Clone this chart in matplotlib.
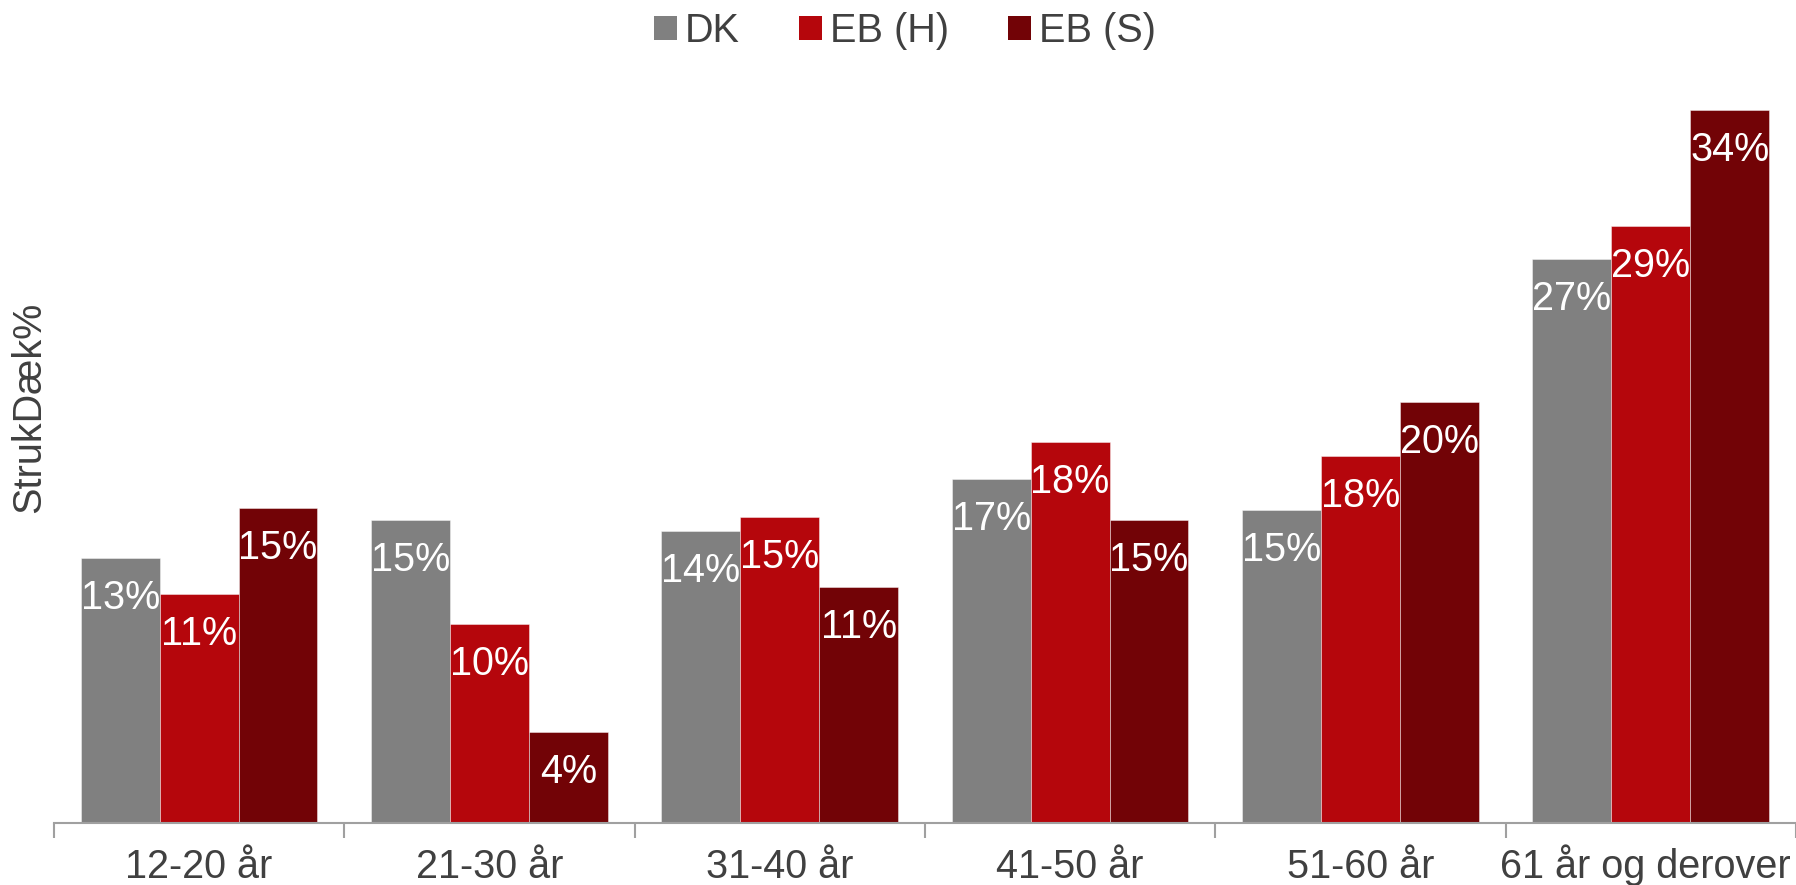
import matplotlib
matplotlib.use("Agg")
import matplotlib.pyplot as plt
from matplotlib.patches import Patch
import matplotlib.transforms as mtransforms
import numpy as np

plt.rcParams['font.family'] = ['Liberation Sans', 'DejaVu Sans']

categories = ["12-20 år", "21-30 år", "31-40 år", "41-50 år", "51-60 år", "61 år og derover"]
series_names = ["DK", "EB (H)", "EB (S)"]
dk = [12.8, 14.6, 14.1, 16.6, 15.1, 27.2]
eb_h = [11.05, 9.6, 14.75, 18.4, 17.7, 28.8]
eb_s = [15.2, 4.4, 11.4, 14.6, 20.3, 34.4]
colors = ["#808080", "#B5060C", "#720306"]

FS = 28.5
fig = plt.figure(figsize=(17.96, 8.85), dpi=100)
ax = fig.add_axes([0.030, 0.070, 0.970, 0.843])

x = np.arange(len(categories))
w = 0.2717
text_col = "#404040"
for i, (vals, col) in enumerate(zip([dk, eb_h, eb_s], colors)):
    bars = ax.bar(x + (i - 1) * w, vals, width=w, color=col, edgecolor=(1, 1, 1, 0.5), linewidth=0.6)
    for b, v in zip(bars, vals):
        ax.annotate(f"{v:.0f}%", (b.get_x() + b.get_width() / 2, v), xytext=(0, -15),
                    textcoords="offset points", ha="center", va="top", color="white", fontsize=FS)

ax.set_xlim(-0.5, len(categories) - 0.5)
ax.set_ylim(0, 36)
for s in ["top", "right", "left"]:
    ax.spines[s].set_visible(False)
ax.spines["bottom"].set_color("#A0A0A0")
ax.spines["bottom"].set_linewidth(1.5)
ax.set_yticks([])
ax.set_xticks(np.arange(-0.5, len(categories), 1.0))
ax.set_xticklabels([])
ax.tick_params(axis="x", which="major", length=11, width=1.5, color="#A0A0A0")

trans = mtransforms.blended_transform_factory(ax.transData, fig.transFigure)
for xi, lab in zip(x, categories):
    ax.text(xi - (0.02 if xi == x[-1] else 0), 0.0075, lab, transform=trans, ha="center", va="baseline",
            fontsize=FS, color=text_col, clip_on=False)

fig.text(0.0165, 0.54, "StrukDæk%", rotation=90, ha="center", va="center",
         fontsize=FS, color=text_col)

handles = [Patch(facecolor=c, edgecolor="none") for c in colors]
fig.legend(handles, series_names, loc="center", bbox_to_anchor=(0.504, 0.965), ncol=3, frameon=False,
           fontsize=FS, labelcolor=text_col, handlelength=0.58, handleheight=0.58,
           handletextpad=0.2, columnspacing=1.5)

fig.savefig("out.png", dpi=100)
